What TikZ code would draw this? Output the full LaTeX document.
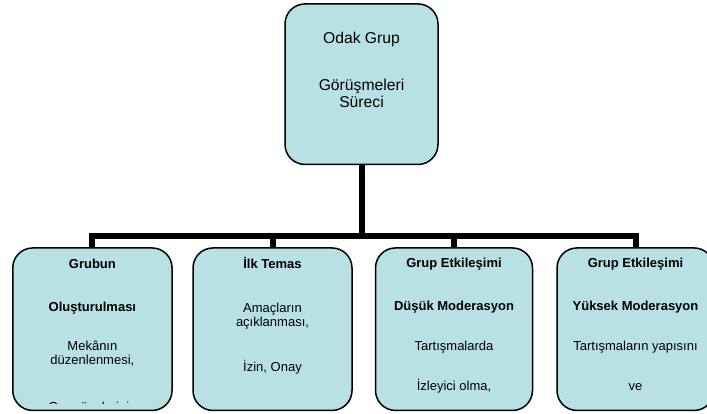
\documentclass[tikz,border=0pt]{standalone}
\usepackage{fontspec}
\setmainfont{Liberation Sans}
\definecolor{boxfill}{RGB}{185,224,228}
\begin{document}
\begin{tikzpicture}[x=1pt,y=-1pt,
  box/.style={draw=black,line width=1.5pt,fill=boxfill,rounded corners=20pt,
    rectangle,inner sep=0pt,minimum width=158pt,minimum height=162.5pt},
  conn/.style={draw=black,line width=6pt},
  txt/.style={anchor=base,inner sep=0pt,font=\fontsize{13}{14}\selectfont},
  btxt/.style={txt,font=\fontsize{13}{14}\selectfont\bfseries},
  ttxt/.style={anchor=base,inner sep=0pt,font=\fontsize{15.7}{17.5}\selectfont}]
\useasboundingbox (0,0) rectangle (707,414);
\clip (0,0) rectangle (707,414);
% connectors
\coordinate (j) at (362,236);
\coordinate (topbot) at (362,164);
\coordinate (s1) at (92.4,248);
\coordinate (s2) at (272.5,248);
\coordinate (s3) at (454,248);
\coordinate (s4) at (635.5,248);
\draw[conn] (topbot) -- (j);
\draw[conn] (j) -| (s1);
\draw[conn] (j) -| (s2);
\draw[conn] (j) -| (s3);
\draw[conn] (j) -| (s4);
% boxes
\node[box,minimum width=153pt,minimum height=160.5pt] (top) at (361.5,84.2) {};
\node[box,minimum width=159.3pt] (b1) at (92.4,329.2) {};
\node[box,minimum width=159pt] (b2) at (272.5,329.2) {};
\node[box,minimum width=157pt] (b3) at (454,329.2) {};
\node[box,minimum width=157pt] (b4) at (635.5,329.2) {};
% top text
\node[ttxt] (t1) at (361.5,43.5) {Odak Grup};
\node[ttxt] (t2) at (361.5,90.5) {Görüşmeleri};
\node[ttxt] (t3) at (361.5,108) {Süreci};
% box 1
\node[btxt] (a1) at (92.4,269) {Grubun};
\node[btxt] (a2) at (92.4,311) {Oluşturulması};
\node[txt] (a3) at (92.4,350.5) {Mekânın};
\node[txt] (a4) at (92.4,364.5) {düzenlenmesi,};
\begin{scope}
\clip (12,250) rectangle (173,403.5);
\node[txt] (a5) at (92.4,411) {Grup üyelerinin};
\end{scope}
% box 2
\node[btxt] (c1) at (272.5,269) {İlk Temas};
\node[txt] (c2) at (272.5,312.5) {Amaçların};
\node[txt] (c3) at (272.5,326.5) {açıklanması,};
\node[txt] (c4) at (272.5,371.5) {İzin, Onay};
% box 3
\node[btxt] (d1) at (454,268) {Grup Etkileşimi};
\node[btxt] (d2) at (454,310) {Düşük Moderasyon};
\node[txt] (d3) at (454,350) {Tartışmalarda};
\node[txt] (d4) at (454,390.5) {İzleyici olma,};
% box 4
\node[btxt] (e1) at (635.5,268) {Grup Etkileşimi};
\node[btxt] (e2) at (635.5,310) {Yüksek Moderasyon};
\node[txt] (e3) at (635.5,350) {Tartışmaların yapısını};
\node[txt] (e4) at (635.5,390.5) {ve};
\end{tikzpicture}
\end{document}
